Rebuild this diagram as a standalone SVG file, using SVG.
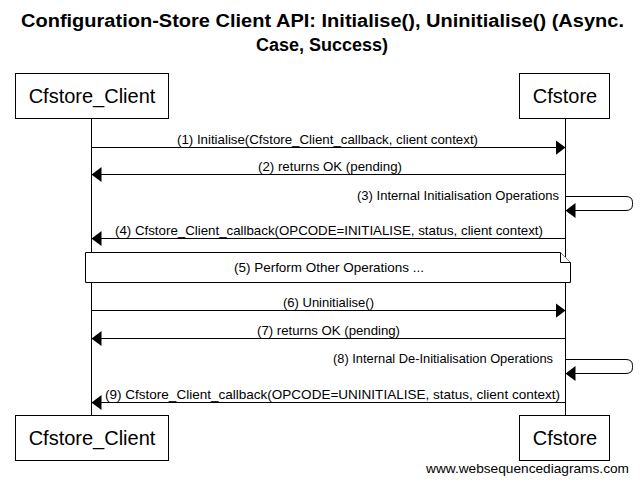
<svg xmlns="http://www.w3.org/2000/svg" width="642" height="484" viewBox="0 0 642 484">
<style>
.box{fill:#fff;stroke:#000;stroke-width:1}
.life{stroke:#000;stroke-width:1;fill:none}
.msg{stroke:#000;stroke-width:1;fill:none}
.t{font-family:"Liberation Sans",Arial,sans-serif;fill:#000}
.title{font-size:18px;font-weight:bold}
.pt{font-size:20px}
.ml{font-size:13px}
.note{fill:#fff;stroke:#000;stroke-width:1}
</style>
<defs>
<marker id="ah" markerWidth="10" markerHeight="16" refX="10" refY="8" orient="auto" markerUnits="userSpaceOnUse">
<path d="M0,0.5 L10,8 L0,15.5 Z" fill="#000"/>
</marker>
</defs>
<rect width="642" height="484" fill="#fff"/>
<g id="title">
<text class="t title" x="21" y="27" textLength="603" lengthAdjust="spacingAndGlyphs">Configuration-Store Client API: Initialise(), Uninitialise() (Async.</text>
<text class="t title" x="322" y="51" text-anchor="middle">Case, Success)</text>
</g>
<g id="lifelines">
<line class="life" x1="91.5" y1="118" x2="91.5" y2="415"/>
<line class="life" x1="565.5" y1="118" x2="565.5" y2="415"/>
</g>
<g id="cfstore_client">
<rect class="box" x="15.5" y="73.5" width="153" height="45"/>
<text class="t pt" x="92" y="103" text-anchor="middle">Cfstore_Client</text>
<rect class="box" x="15.5" y="415.5" width="153" height="45"/>
<text class="t pt" x="92" y="445" text-anchor="middle">Cfstore_Client</text>
</g>
<g id="cfstore">
<rect class="box" x="519.5" y="73.5" width="90" height="45"/>
<text class="t pt" x="565" y="103" text-anchor="middle">Cfstore</text>
<rect class="box" x="519.5" y="415.5" width="90" height="45"/>
<text class="t pt" x="565" y="445" text-anchor="middle">Cfstore</text>
</g>
<g id="connectors">
<line class="msg" x1="91.5" y1="147.5" x2="565.5" y2="147.5" marker-end="url(#ah)"/>
<text class="t ml" x="177" y="144" textLength="301" lengthAdjust="spacingAndGlyphs">(1) Initialise(Cfstore_Client_callback, client context)</text>
<line class="msg" x1="565.5" y1="174.5" x2="91.5" y2="174.5" marker-end="url(#ah)"/>
<text class="t ml" x="258" y="171" textLength="144" lengthAdjust="spacingAndGlyphs">(2) returns OK (pending)</text>
<path class="msg" d="M565.5,196.5 H626 Q632.5,196.5 632.5,202.5 V204.5 Q632.5,210.5 626,210.5 H565.5" marker-end="url(#ah)"/>
<text class="t ml" x="357" y="200" textLength="202" lengthAdjust="spacingAndGlyphs">(3) Internal Initialisation Operations</text>
<line class="msg" x1="565.5" y1="238.5" x2="91.5" y2="238.5" marker-end="url(#ah)"/>
<text class="t ml" x="115" y="235" textLength="428" lengthAdjust="spacingAndGlyphs">(4) Cfstore_Client_callback(OPCODE=INITIALISE, status, client context)</text>
<line class="msg" x1="91.5" y1="310.5" x2="565.5" y2="310.5" marker-end="url(#ah)"/>
<text class="t ml" x="283" y="307" textLength="91" lengthAdjust="spacingAndGlyphs">(6) Uninitialise()</text>
<line class="msg" x1="565.5" y1="338.5" x2="91.5" y2="338.5" marker-end="url(#ah)"/>
<text class="t ml" x="257" y="335" textLength="143" lengthAdjust="spacingAndGlyphs">(7) returns OK (pending)</text>
<path class="msg" d="M565.5,359.5 H626 Q632.5,359.5 632.5,365.5 V367.5 Q632.5,373.5 626,373.5 H565.5" marker-end="url(#ah)"/>
<text class="t ml" x="333" y="363" textLength="220" lengthAdjust="spacingAndGlyphs">(8) Internal De-Initialisation Operations</text>
<line class="msg" x1="565.5" y1="402.5" x2="91.5" y2="402.5" marker-end="url(#ah)"/>
<text class="t ml" x="105" y="399" textLength="455" lengthAdjust="spacingAndGlyphs">(9) Cfstore_Client_callback(OPCODE=UNINITIALISE, status, client context)</text>
</g>
<g id="note5">
<path class="note" d="M85.5,252.5 H560.5 L570.5,262.5 V282.5 H85.5 Z"/>
<path class="note" d="M560.5,252.5 V262.5 H570.5" fill="none"/>
<text class="t ml" x="234" y="272" textLength="190" lengthAdjust="spacingAndGlyphs">(5) Perform Other Operations ...</text>
</g>
<text class="t" x="426" y="473" font-size="13.5" textLength="203" lengthAdjust="spacingAndGlyphs">www.websequencediagrams.com</text>
</svg>
